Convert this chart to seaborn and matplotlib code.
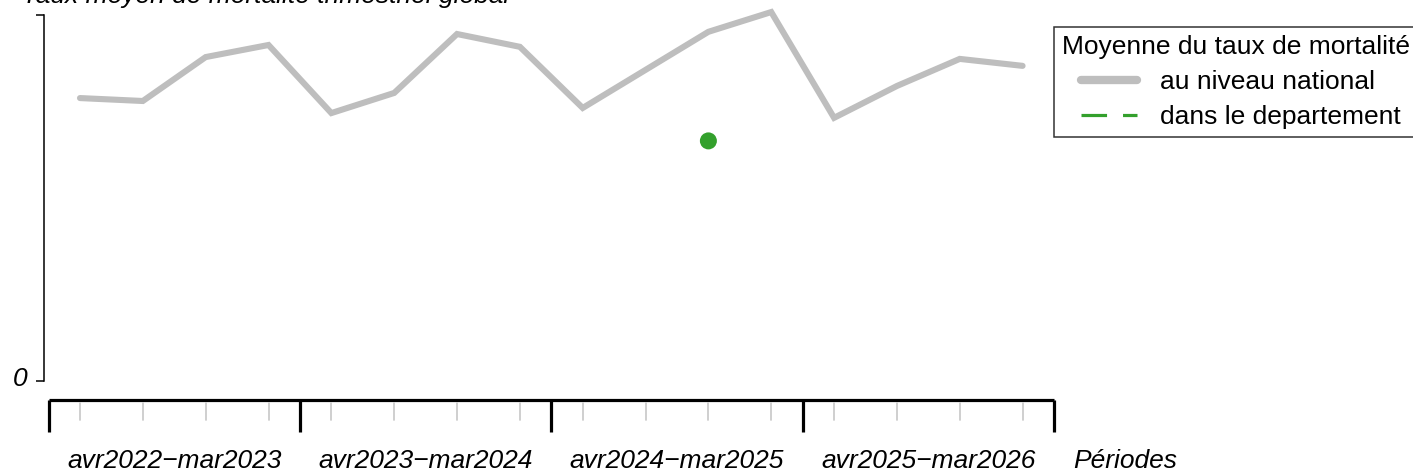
import numpy as np
import pandas as pd
import matplotlib
matplotlib.use("Agg")
import matplotlib.pyplot as plt
from matplotlib.lines import Line2D
from matplotlib.legend_handler import HandlerLine2D
from matplotlib.transforms import ScaledTranslation
import seaborn as sns

sns.set_style("white")
plt.rcParams['font.family'] = ['Liberation Sans', 'DejaVu Sans']
plt.rcParams['font.size'] = 19
plt.rcParams['text.color'] = 'black'
plt.rcParams['axes.labelcolor'] = 'black'
plt.rcParams['ytick.color'] = 'black'
plt.rcParams['axes.edgecolor'] = 'black'

# donnees (echelle relative, graduation haute = 1)
annees = ['avr2022\u2212mar2023', 'avr2023\u2212mar2024', 'avr2024\u2212mar2025', 'avr2025\u2212mar2026']
national = [0.773, 0.765, 0.885, 0.918,
            0.732, 0.787, 0.948, 0.913,
            0.746, 0.850, 0.954, 1.008,
            0.719, 0.806, 0.880, 0.861]
dept_trimestre = [10]
dept_valeur = [0.656]

gris = '#bebebe'
vert = '#33a02c'

df = pd.DataFrame({'trimestre': np.arange(len(national)), 'taux': national})
df_dep = pd.DataFrame({'trimestre': dept_trimestre, 'taux': dept_valeur})


class Decale(HandlerLine2D):
    # entrees de legende un peu en retrait, comme dans R
    def get_xdata(self, legend, xdescent, ydescent, width, height, fontsize):
        a = -xdescent + 0.25 * width
        b = -xdescent + width
        return np.array([a, b]), np.array([a, b])


W, H = 1413, 473
fig = plt.figure(figsize=(W / 100, H / 100), dpi=100)

x0, x1 = 44, 1054
ax = fig.add_axes([x0 / W, 1 - 381 / H, (x1 - x0) / W, (381 - 4) / H])
sns.lineplot(data=df, x='trimestre', y='taux', ax=ax, color=gris, linewidth=4.4,
             solid_joinstyle='miter', legend=False)
sns.scatterplot(data=df_dep, x='trimestre', y='taux', ax=ax, color=vert, s=150,
                edgecolor='none', legend=False, zorder=3)

ax.set_xlim(-0.573, len(national) - 0.5)
ax.set_ylim(0, 1.03)
for s in ['top', 'right', 'bottom']:
    ax.spines[s].set_visible(False)
ax.spines['left'].set_bounds(0, 1)
ax.spines['left'].set_linewidth(1.1)
ax.set_xticks([])
ax.set_yticks([0, 1])
ax.set_yticklabels(['0', ''], fontstyle='italic')
ax.tick_params(axis='y', left=True, direction='out', length=6, width=1.1, pad=6,
               colors='black')
for lab in ax.get_yticklabels():
    lab.set_transform(lab.get_transform() + ScaledTranslation(0, 0.05, fig.dpi_scale_trans))
ax.set_xlabel('')
ax.set_ylabel('')

# axe des periodes
axb = fig.add_axes([x0 / W, 1 - 432 / H, (x1 - x0) / W, 32 / H], sharex=ax)
axb.axis('off')
n = len(national)
axb.plot([-0.5, n - 0.5], [1, 1], color='black', lw=2.3, solid_capstyle='butt', clip_on=False)
for k in range(len(annees) + 1):
    axb.plot([4 * k - 0.5] * 2, [1, 0], color='black', lw=2.3, solid_capstyle='butt', clip_on=False)
for q in range(n):
    axb.plot([q, q], [0.9, 0.37], color='#cccccc', lw=1.3, clip_on=False)
for k, lab in enumerate(annees):
    axb.text(4 * k + 1.5, -0.9, lab, ha='center', va='center', fontstyle='italic', clip_on=False)
axb.text(n - 0.5 + 19 / 62.8, -0.9, 'P\u00e9riodes', ha='left', va='center',
         fontstyle='italic', clip_on=False)
axb.set_ylim(0, 1)

fig.text(22 / W, 1 - 3 / H, 'Taux moyen de mortalit\u00e9 trimestriel global',
         ha='left', va='baseline', fontstyle='italic')

handles = [Line2D([], [], color=gris, lw=6, solid_capstyle='round'),
           Line2D([], [], color=vert, lw=2.3, ls=(0, (8, 5)))]
leg = fig.legend(handles, ['au niveau national', 'dans le departement'],
                 title='Moyenne du taux de mortalit\u00e9', loc='upper left',
                 bbox_to_anchor=(1054 / W, 1 - 27 / H), frameon=True, fancybox=False,
                 edgecolor='black', handlelength=2.85, handletextpad=0.85,
                 borderpad=0.3, labelspacing=0.42, borderaxespad=0, fontsize=19,
                 title_fontsize=19, handler_map={Line2D: Decale()})
leg._legend_box.align = 'left'
leg.get_frame().set_linewidth(1.1)

fig.savefig('out.png', dpi=100)
